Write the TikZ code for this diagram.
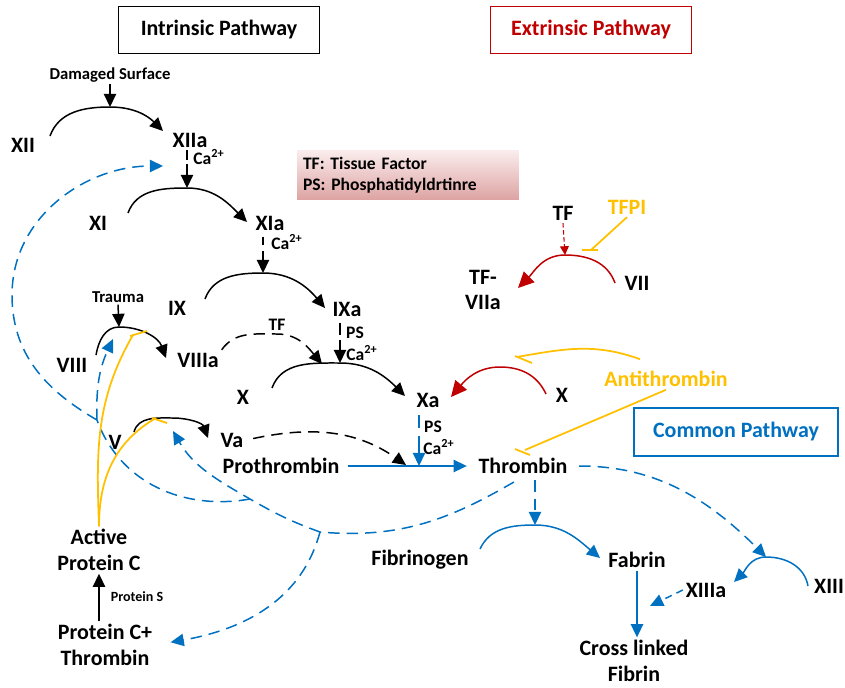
\documentclass[tikz,border=0pt]{standalone}
\usepackage{fontspec}
\setmainfont{Carlito}
\usetikzlibrary{arrows.meta}
\definecolor{cred}{HTML}{C00000}
\definecolor{cyel}{HTML}{FFC000}
\definecolor{cblue}{HTML}{0070C0}
\frenchspacing
\tikzset{
  lbl/.style={font=\fontsize{12.5}{14.7}\selectfont\bfseries, inner sep=1.5pt, align=center},
  sml/.style={font=\fontsize{9.5}{11}\selectfont\bfseries, inner sep=1pt},
  tag/.style={font=\fontsize{10}{12}\selectfont\bfseries, inner sep=1pt},
  ttl/.style={draw, line width=0.7pt, font=\fontsize{12.5}{15}\selectfont\bfseries, minimum width=4.02cm, minimum height=0.94cm},
  key/.style={top color={rgb,255:red,250;green,236;blue,236}, bottom color={rgb,255:red,222;green,164;blue,164}, font=\fontsize{10}{12}\selectfont\bfseries, align=left, text width=4.2cm, inner sep=3.4pt, minimum height=0.92cm},
  tip/.style={-{Triangle[length=7.5pt,width=7pt]}},
  act/.style={line width=0.85pt, tip},
  bact/.style={act, cblue},
  ract/.style={line width=0.85pt, cred, -{Triangle[length=9pt,width=8.5pt]}},
  dsh/.style={dash pattern=on 6.5pt off 4pt},
  inh/.style={line width=1pt, cyel},
}
\begin{document}
\begin{tikzpicture}[x=0.02cm, y=-0.02cm]
  \useasboundingbox (0,0) rectangle (845,687);
  \node[ttl] (intr) at (219,30) {Intrinsic Pathway};
  \node[ttl, cred] (extr) at (591,30) {Extrinsic Pathway};
  \node[ttl, cblue, minimum width=4.08cm, minimum height=0.96cm] (comm) at (736,432) {Common Pathway};
  \node[key] (legend) at (408,175) {TF: Tissue Factor\\PS: Phosphatidyldrtinre};

  \node[sml] (dmg) at (110,75) {Damaged Surface};
  \node[sml] (trauma) at (118,297) {Trauma};
  \node[lbl] (xii) at (23,145) {XII};
  \node[lbl] (xiia) at (190,140) {XIIa};
  \node[lbl] (xi) at (98,223) {XI};
  \node[lbl] (xia) at (270,223) {XIa};
  \node[lbl] (ix) at (177,308) {IX};
  \node[lbl] (ixa) at (347,309) {IXa};
  \node[lbl] (viii) at (72,365) {VIII};
  \node[lbl] (viiia) at (198,360) {VIIIa};
  \node[lbl] (xf) at (243,397) {X};
  \node[lbl] (xa) at (428,400) {Xa};
  \node[lbl] (v) at (115,442) {V};
  \node[lbl] (va) at (232,440) {Va};
  \node[lbl] (prothr) at (281,466) {Prothrombin};
  \node[lbl] (thr) at (523,466) {Thrombin};
  \node[lbl] (fibgen) at (420,560) {Fibrinogen};
  \node[lbl] (fabrin) at (637,560) {Fabrin};
  \node[lbl] (xlink) at (634,661) {Cross linked\\Fibrin};
  \node[lbl] (xiii) at (829,586) {XIII};
  \node[lbl] (xiiia) at (706,590) {XIIIa};
  \node[lbl] (apc) at (99,550) {Active\\Protein C};
  \node[lbl] (pct) at (105,645) {Protein C+\\Thrombin};
  \node[font=\fontsize{8}{10}\selectfont\bfseries] (prots) at (137,597) {Protein S};
  \node[lbl] (tf) at (563,213) {TF};
  \node[lbl, cyel] (tfpi) at (627,207) {TFPI};
  \node[lbl] (tfviia) at (483,290) {TF-\\VIIa};
  \node[lbl] (vii) at (637,283) {VII};
  \node[lbl] (xr) at (562,395) {X};
  \node[lbl, cyel] (anti) at (666,379) {Antithrombin};

  \node[tag] (ca1) at (209,157) {Ca\textsuperscript{2+}};
  \node[tag] (ca2) at (287,242) {Ca\textsuperscript{2+}};
  \node[tag] (ps1) at (355,333) {PS};
  \node[tag] (ca3) at (362,353) {Ca\textsuperscript{2+}};
  \node[tag] (tflbl) at (277,325) {TF};
  \node[tag] (ps2) at (433,427) {PS};
  \node[tag] (ca4) at (439,447) {Ca\textsuperscript{2+}};

  \coordinate (s12) at (50,136);  \coordinate (pk12) at (110,107); \coordinate (e12) at (163,131);
  \coordinate (s11) at (128,213); \coordinate (pk11) at (187,188); \coordinate (e11) at (247,222);
  \coordinate (s9) at (205,299);  \coordinate (pk9) at (263,273);  \coordinate (e9) at (325,308);
  \coordinate (s8) at (96,355);   \coordinate (pk8) at (119,327);  \coordinate (e8) at (166,358);
  \coordinate (s10) at (272,388); \coordinate (pk10) at (340,363); \coordinate (e10) at (405,396);
  \coordinate (s5) at (134,432);  \coordinate (pk5) at (173,418);  \coordinate (e5) at (208,438);
  \coordinate (s7) at (615,283);  \coordinate (pk7) at (565,255);  \coordinate (e7) at (518,288);
  \coordinate (sxr) at (546,394); \coordinate (pkxr) at (500,367); \coordinate (exr) at (451,397);
  \coordinate (sfb) at (480,549); \coordinate (pkfb) at (535,525); \coordinate (efb) at (600,558);
  \coordinate (s13) at (808,586); \coordinate (pk13) at (766,557); \coordinate (e13) at (734,582);
  \coordinate (tfe) at (322,364);  \coordinate (vae) at (406,465);  \coordinate (ptx) at (419,466);
  \coordinate (x13e) at (650,606);
  \coordinate (jn1) at (320,532); \coordinate (jn2) at (250,499); \coordinate (jn3) at (97,420);
  \coordinate (vin) at (173,431); \coordinate (v8in) at (113,339); \coordinate (lp) at (12,295);
  \coordinate (xiiain) at (163,166);
  \coordinate (tfb) at (591,250); \coordinate (ab1) at (517,357); \coordinate (ab2) at (525,450);
  \coordinate (ab8) at (133,335); \coordinate (ab5) at (156,418);

  \draw[act] (s12) to[out=70,in=180] (pk12) to[out=0,in=135] (e12);
  \draw[act] (s11) to[out=70,in=180] (pk11) to[out=0,in=135] (e11);
  \draw[act] (s9) to[out=70,in=180] (pk9) to[out=0,in=130] (e9);
  \draw[act] (s8) to[out=80,in=180] (pk8) to[out=0,in=110] (e8);
  \draw[act] (s10) to[out=70,in=180] (pk10) to[out=0,in=135] (e10);
  \draw[act] (s5) to[out=75,in=180] (pk5) to[out=0,in=110] (e5);
  \draw[ract] (s7) to[out=110,in=0] (pk7) to[out=180,in=45] (e7);
  \draw[ract] (sxr) to[out=115,in=0] (pkxr) to[out=180,in=50] (exr);
  \draw[bact] (sfb) to[out=65,in=180] (pkfb) to[out=0,in=140] (efb);
  \draw[bact] (s13) to[out=100,in=0] (pk13) to[out=180,in=45] (e13);

  \draw[act] (dmg.south) -- (pk12);
  \draw[act] (trauma.south) -- (pk8);
  \draw[act, dash pattern=on 5.5pt off 2.5pt on 30pt off 1pt] (xiia.south -| pk11) -- (pk11);
  \draw[act, dash pattern=on 5pt off 3pt on 30pt off 1pt, shorten <=2pt] (xia.south -| pk9) -- (pk9);
  \draw[act, dash pattern=on 7pt off 3pt on 30pt off 1pt, shorten <=2pt] (ixa.south -| pk10) -- (pk10);
  \draw[act, dsh] (viiia.north east) to[out=55,in=180] (277,334) to[out=0,in=130] (tfe);
  \draw[act, dsh, shorten <=4pt] (va.east) to[out=12,in=145] (vae);
  \draw[bact, dash pattern=on 7pt off 4.5pt on 30pt off 1pt, shorten <=3pt] (xa.south -| ptx) -- (ptx);
  \draw[bact, shorten <=3pt, shorten >=5pt] (prothr) -- (thr);
  \draw[act] (pct.north -| apc) -- (apc.south);
  \draw[bact] (fabrin.south) -- (fabrin.south |- xlink.north);
  \draw[bact, dash pattern=on 4pt off 3pt] (xiiia.west) -- (x13e);
  \draw[cred, line width=0.6pt, dash pattern=on 2.5pt off 1.5pt, -{Triangle[length=5pt,width=5pt]}] (tf.south) -- (pk7);

  \draw[bact, dsh, shorten <=5pt] (thr.east) to[out=0,in=135] (pk13);
  \draw[bact, dsh, shorten <=2pt] (thr.south -| pkfb) -- (pkfb);
  \draw[cblue, line width=0.85pt, dsh, shorten <=6pt] (thr.south) to[out=-150,in=-5] (jn1);
  \draw[bact, dsh, shorten >=9pt] (jn1) to[out=-105,in=10] (pct.east);
  \draw[bact, dsh] (jn1) to[out=160,in=-30] (jn2) to[out=150,in=-60] (vin);
  \draw[cblue, line width=0.85pt, dsh] (jn2) to[out=190,in=-70] (jn3);
  \draw[bact, dsh] (jn3) to[out=92,in=-115] (v8in);
  \draw[bact, dsh] (jn3) to[out=150,in=-90] (lp) to[out=90,in=180] (xiiain);

  \draw[inh] (tfpi.south) -- (tfb);
  \draw[inh] (tfb) +(-9,0) -- +(7,0);
  \draw[inh] ([shift={(-26,-9)}]anti.north) to[out=160,in=10] (ab1);
  \draw[inh] (ab1) +(-2,-1) -- +(15,6);
  \draw[inh] (anti.south) -- (ab2);
  \draw[inh] (ab2) +(-10,-1) -- +(5,5);
  \draw[inh] (apc.north) to[out=92,in=240] (ab8);
  \draw[inh] (ab8) +(-3,1) -- +(14,-4);
  \draw[inh] (apc.north) to[out=90,in=210] (ab5);
  \draw[inh] (ab5) +(-4,0) -- +(11,5);
\end{tikzpicture}
\end{document}
